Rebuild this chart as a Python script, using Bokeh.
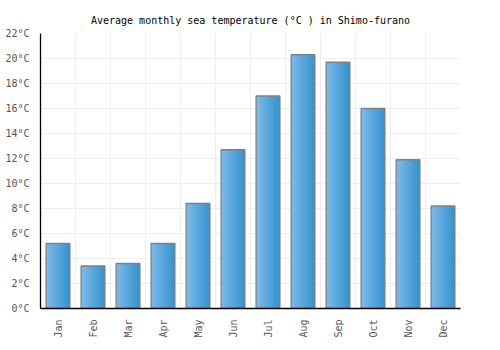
import numpy as np
from bokeh.plotting import figure
from bokeh.models import FixedTicker, PrintfTickFormatter, Range1d
from bokeh.transform import dodge
from bokeh.embed import file_html
from bokeh.resources import INLINE

months = ["Jan", "Feb", "Mar", "Apr", "May", "Jun", "Jul", "Aug", "Sep", "Oct", "Nov", "Dec"]
temps = [5.2, 3.4, 3.6, 5.2, 8.4, 12.7, 17.0, 20.3, 19.7, 16.0, 11.9, 8.2]
y_ticks = list(range(0, 23, 2))

FONT = "DejaVu Sans Mono"
xs = list(range(len(months)))

p = figure(width=500, height=350, output_backend="svg", toolbar_location=None,
           x_range=Range1d(-0.5, len(months) - 0.5), y_range=Range1d(0, 22),
           min_border_left=40, min_border_right=40, min_border_top=33, min_border_bottom=42,
           title="Average monthly sea temperature (°C ) in Shimo-furano")
p.title.align = "center"
p.title.text_font = FONT
p.title.text_font_size = "10px"
p.title.text_font_style = "normal"
p.title.text_color = "#000000"
p.title.standoff = 16
p.outline_line_color = None

# gradient bars built from overlapping strips (each reaching the right edge)
bar_w = 0.68
n = 14
c0 = np.array([0x7c, 0xba, 0xeb])
c1 = np.array([0x36, 0x95, 0xce])
src = dict(x=xs, top=temps)
for i in range(n):
    t = i / (n - 1)
    c = tuple(int(v) for v in (c0 + (c1 - c0) * t))
    col = "#%02x%02x%02x" % c
    w = bar_w * (1 - i / n)
    off = bar_w / 2 - w / 2
    p.vbar(x=dodge("x", off), top="top", bottom=0, width=w, source=src,
           fill_color=col, line_color=None)
p.vbar(x="x", top="top", bottom=0, width=bar_w, source=src,
       fill_color=None, line_color="#808080", line_width=1.3)

p.xaxis.ticker = FixedTicker(ticks=xs)
p.xaxis.major_label_overrides = {i: m for i, m in enumerate(months)}
p.xaxis.major_label_orientation = np.pi / 2
p.yaxis.ticker = FixedTicker(ticks=y_ticks)
p.yaxis.formatter = PrintfTickFormatter(format="%d°C")
for ax in (p.xaxis, p.yaxis):
    ax.major_label_text_font = FONT
    ax.major_label_text_font_size = "10px"
    ax.major_label_text_color = "#555555"
    ax.major_tick_line_color = None
    ax.minor_tick_line_color = None
    ax.axis_line_color = "#000000"
    ax.axis_line_width = 1.3

p.xgrid.ticker = FixedTicker(ticks=[i - 0.5 for i in range(len(months) + 1)])
p.ygrid.ticker = FixedTicker(ticks=y_ticks)
p.xgrid.grid_line_color = "#eeeeee"
p.ygrid.grid_line_color = "#eeeeee"

open("out.html", "w").write(file_html(p, INLINE))
